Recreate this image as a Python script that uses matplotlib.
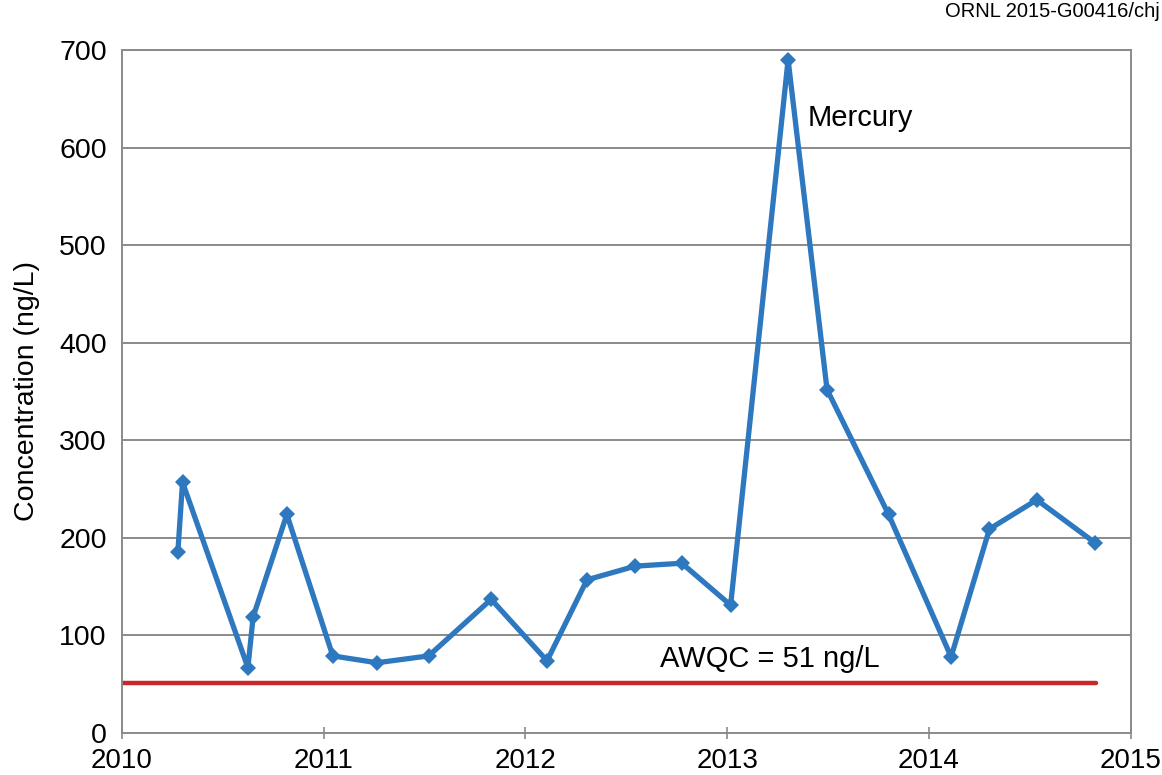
import matplotlib.pyplot as plt
import numpy as np

plt.rcParams['font.family'] = ['Liberation Sans', 'DejaVu Sans']

# Sampling dates (decimal years) and mercury concentration (ng/L)
dates = [2010.277, 2010.30, 2010.624, 2010.65, 2010.817, 2011.045, 2011.264,
         2011.52, 2011.83, 2012.107, 2012.305, 2012.544, 2012.775, 2013.017,
         2013.302, 2013.495, 2013.80, 2014.11, 2014.30, 2014.535, 2014.823]
mercury = [186, 257, 67, 119, 224, 79, 72,
           79, 137, 74, 157, 171, 174, 131,
           690, 352, 224, 78, 209, 239, 195]

awqc = 51
awqc_span = [2010.0, 2014.83]
year_ticks = [2010, 2011, 2012, 2013, 2014, 2015]
conc_ticks = [0, 100, 200, 300, 400, 500, 600, 700]

fig = plt.figure(figsize=(11.62, 7.75), dpi=100)
ax = fig.add_axes([0.105, 0.0542, 0.868, 0.8813])

grid_c = '#8a8a8a'
for v in conc_ticks[1:]:
    ax.axhline(v, color=grid_c, lw=1.4, zorder=1)

ax.plot(awqc_span, [awqc, awqc], color='#c8282c', lw=3.2, solid_capstyle='round', zorder=2)
ax.plot(dates, mercury, color='#2e78bf', lw=3.8, marker='D', ms=8.5,
        markeredgewidth=0, zorder=3)

ax.set_xlim(2010, 2015)
ax.set_ylim(0, 700)
ax.set_xticks(year_ticks)
ax.set_yticks(conc_ticks)
ax.tick_params(axis='x', direction='inout', length=9, width=1.2, color=grid_c,
               labelsize=20, pad=6)
ax.tick_params(axis='y', length=0, labelsize=20.5, pad=11)
for s in ax.spines.values():
    s.set_color(grid_c)
    s.set_linewidth(1.4)

ax.set_ylabel('Concentration (ng/L)', fontsize=20.5, labelpad=14)

ax.text(2013.4, 630, 'Mercury', fontsize=21, ha='left', va='center')
ax.text(2012.665, 76, 'AWQC = 51 ng/L', fontsize=21, ha='left', va='center')
fig.text(0.998, 0.985, 'ORNL 2015-G00416/chj', fontsize=14.5, ha='right', va='center')

plt.savefig('out.png', dpi=100)
